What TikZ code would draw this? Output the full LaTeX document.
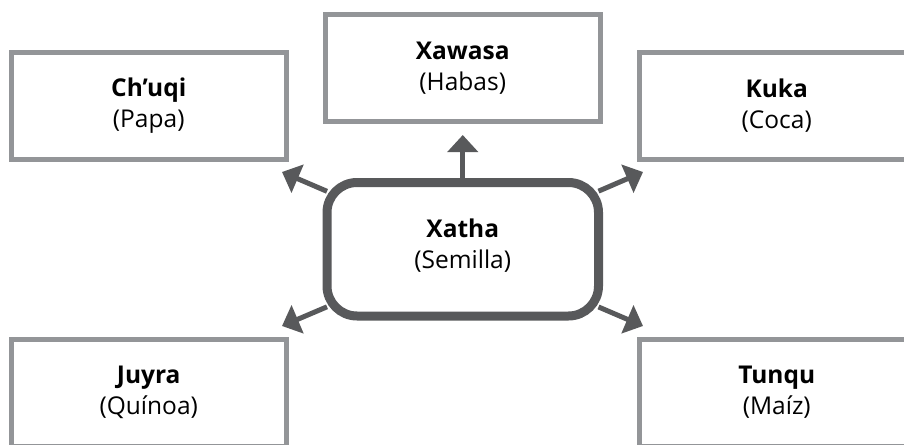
\documentclass[tikz,border=0pt]{standalone}
\usepackage{fontspec}
\setmainfont{Open Sans}
\usetikzlibrary{arrows.meta}
\definecolor{boxgray}{HTML}{939598}
\definecolor{darkgray}{HTML}{58595B}
\tikzset{
  txt/.style={align=center, font=\fontsize{24.5}{31}\selectfont, text=black, inner sep=0pt},
  leaf/.style={txt, draw=boxgray, line width=5pt, minimum width=274.5pt, minimum height=107pt,
    outer sep=0pt},
  hub/.style={draw=darkgray, line width=9pt, rounded corners=30pt, fill=white, minimum width=271.5pt,
    minimum height=133.5pt, inner sep=0pt, outer sep=0pt},
  arr/.style={draw=darkgray, line width=5pt, -{Triangle[width=30pt,length=17pt]}, fill=darkgray}
}
\begin{document}
\begin{tikzpicture}[x=1pt,y=-1pt]
\useasboundingbox (0,0) rectangle (904,444);
\node[leaf] (chuqi) at (148.75,106) {\textbf{Ch’uqi}\\(Papa)};
\node[leaf] (xawasa) at (462.75,68) {\textbf{Xawasa}\\(Habas)};
\node[leaf] (kuka) at (776.75,106) {\textbf{Kuka}\\(Coca)};
\node[leaf] (juyra) at (148.75,392.5) {\textbf{Juyra}\\(Quínoa)};
\node[leaf] (tunqu) at (776.75,392.5) {\textbf{Tunqu}\\(Maíz)};
\coordinate (tUL) at (282,172);
\coordinate (tUR) at (643,172);
\coordinate (tLL) at (282,326);
\coordinate (tLR) at (643,326);
\node[hub, draw=none, fill=none] (c0) at (462.75,249.25) {};
\draw[arr] (c0) -- (tUL);
\draw[arr] (c0) -- (tUR);
\draw[arr] (c0) -- (tLL);
\draw[arr] (c0) -- (tLR);
\draw[arr, shorten >=13.5pt] (c0.north) -- (xawasa.south);
\node[hub] (c) at (462.75,249.25) {};
\node[txt, yshift=4pt] (ctext) at (c.center) {\textbf{Xatha}\\(Semilla)};
\end{tikzpicture}
\end{document}
